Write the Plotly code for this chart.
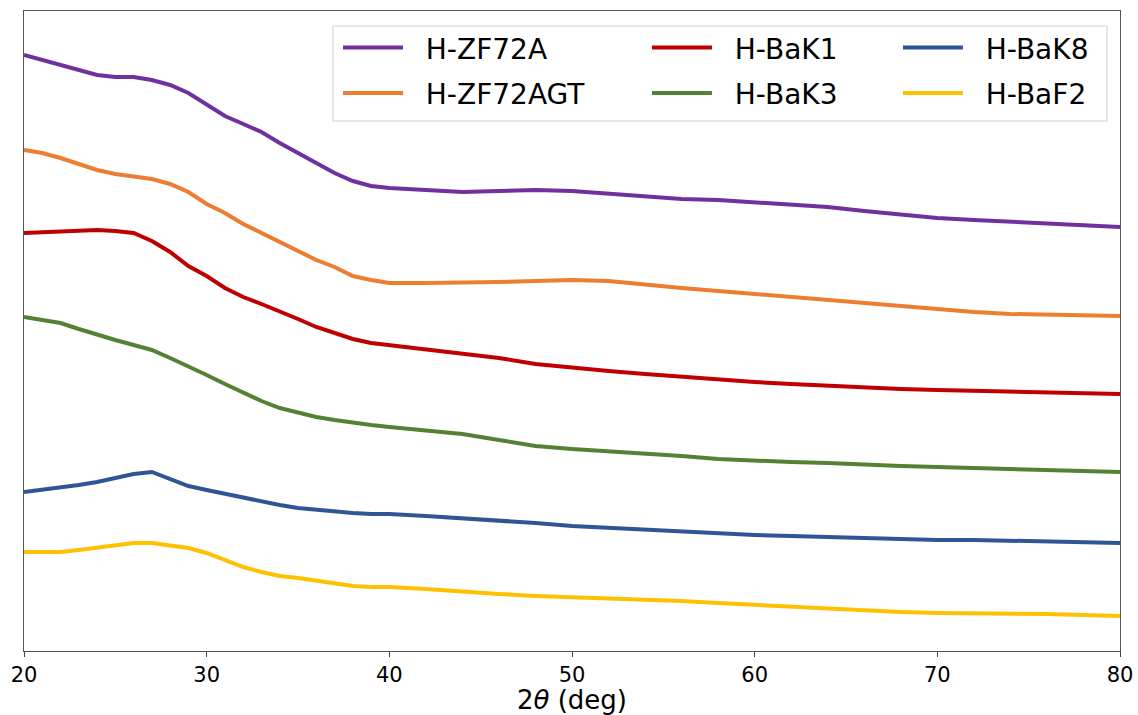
import plotly.graph_objects as go

# 2-theta positions (deg)
two_theta = [20, 21, 22, 23, 24, 25, 26, 27, 28, 29, 30, 31, 32, 33, 34, 35, 36, 37, 38, 39, 40,
             42, 44, 46, 48, 50, 52, 54, 56, 58, 60, 62, 64, 66, 68, 70, 72, 74, 76, 78, 80]

# intensities (arbitrary units, stacked/offset as in the reference)
h_zf72a = [596, 591, 585, 580, 576, 574, 574, 571, 566, 558, 546, 535, 527, 519, 508, 498, 487, 478, 470, 465, 463,
           461, 459, 460, 461, 460, 457, 454, 452, 451, 449, 446, 444, 440, 436, 433, 431, 429, 427, 425, 424]
h_zf72agt = [501, 498, 493, 487, 481, 477, 474, 472, 467, 459, 447, 438, 427, 418, 409, 400, 391, 384, 375, 371, 368,
             368, 368, 369, 370, 371, 370, 366, 363, 360, 357, 354, 351, 347, 344, 341, 339, 337, 336, 335, 335]
h_bak1 = [418, 419, 420, 421, 421, 420, 418, 410, 399, 385, 375, 363, 354, 347, 340, 332, 324, 318, 312, 308, 306,
          302, 298, 293, 287, 283, 280, 277, 274, 272, 269, 267, 265, 263, 262, 261, 260, 259, 258, 258, 257]
h_bak3 = [334, 331, 328, 322, 316, 311, 306, 301, 293, 285, 276, 267, 258, 250, 243, 238, 234, 231, 228, 226, 224,
          221, 217, 211, 205, 202, 200, 198, 195, 192, 190, 189, 188, 187, 185, 184, 183, 182, 181, 180, 179]
h_bak8 = [159, 161, 164, 166, 169, 173, 177, 179, 172, 165, 161, 157, 153, 149, 146, 143, 141, 139, 138, 137, 137,
          135, 133, 131, 128, 125, 123, 121, 120, 118, 116, 115, 114, 113, 112, 111, 111, 110, 110, 109, 108]
h_baf2 = [99, 99, 99, 101, 103, 106, 108, 108, 105, 103, 98, 91, 84, 79, 75, 73, 70, 68, 65, 64, 64,
          62, 59, 57, 55, 54, 52, 51, 50, 48, 46, 44, 42, 40, 39, 38, 38, 37, 37, 36, 35]

names = ["H-ZF72A", "H-ZF72AGT", "H-BaK1", "H-BaK3", "H-BaK8", "H-BaF2"]
series = [h_zf72a, h_zf72agt, h_bak1, h_bak3, h_bak8, h_baf2]
colors = ["#7030A0", "#ED7D31", "#C00000", "#548235", "#2F5597", "#FFC000"]
legend_ids = ["legend", "legend", "legend2", "legend2", "legend3", "legend3"]

NBSP = "\u00a0"
fig = go.Figure()
for name, vals, col, lg in zip(names, series, colors, legend_ids):
    fig.add_trace(go.Scatter(x=two_theta, y=vals, mode="lines", name=NBSP * 2 + name,
                             line=dict(color=col, width=4), legend=lg, legendgroup=name))

font_family = "DejaVu Sans"
leg_common = dict(font=dict(family=font_family, size=28, color="black"),
                  bgcolor="rgba(0,0,0,0)", borderwidth=0, orientation="v",
                  xanchor="left", yanchor="top", y=0.9814, itemwidth=60,
                  tracegroupgap=6, traceorder="grouped")

fig.update_layout(
    width=1138, height=715,
    margin=dict(l=24, r=18, t=11, b=64, autoexpand=False),
    paper_bgcolor="white", plot_bgcolor="white",
    font=dict(family=font_family, color="black"),
    legend=dict(x=0.2865, **leg_common),
    legend2=dict(x=0.5684, **leg_common),
    legend3=dict(x=0.7974, **leg_common),
    xaxis=dict(range=[20, 80], tickvals=[20, 30, 40, 50, 60, 70, 80],
               ticks="outside", ticklen=5, tickcolor="#444", tickwidth=1,
               showline=True, linecolor="#555", linewidth=1, mirror=True,
               showgrid=False, zeroline=False,
               tickfont=dict(family=font_family, size=21, color="black"),
               title=dict(text="2<i>θ</i> (deg)", standoff=8,
                          font=dict(family=font_family, size=26, color="black"))),
    yaxis=dict(range=[0, 640], showticklabels=False, ticks="",
               showline=True, linecolor="#555", linewidth=1, mirror=True,
               showgrid=False, zeroline=False),
    shapes=[dict(type="rect", xref="paper", yref="paper",
                 x0=0.2819, x1=0.9881, y0=0.8281, y1=0.9766,
                 line=dict(color="#d0d0d0", width=1), fillcolor="rgba(255,255,255,0.85)",
                 layer="above")],
)

fig.write_html("out.html")
